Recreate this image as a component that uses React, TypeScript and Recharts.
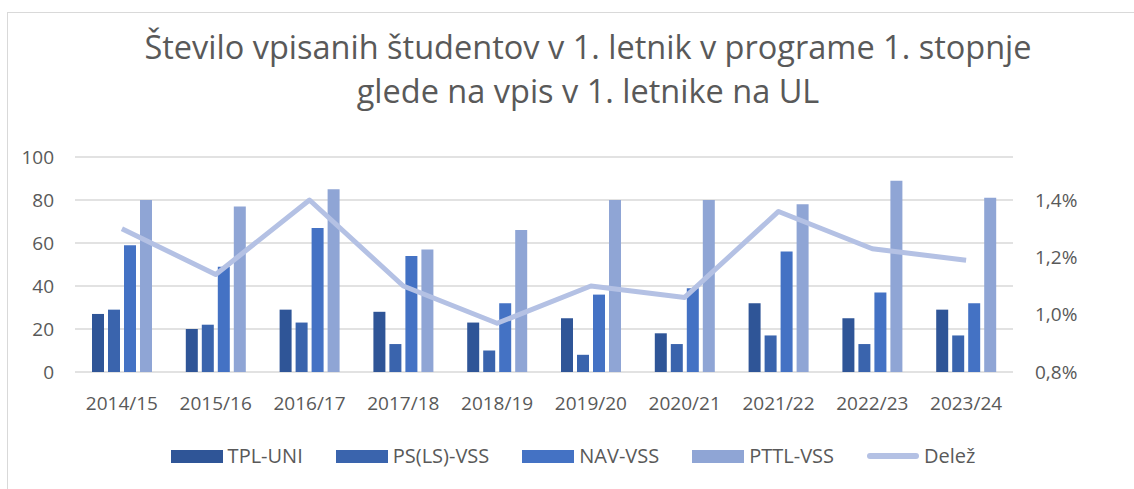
import { ComposedChart, Bar, Line, XAxis, YAxis, CartesianGrid, Legend } from 'recharts'

const categories = ['2014/15', '2015/16', '2016/17', '2017/18', '2018/19', '2019/20', '2020/21', '2021/22', '2022/23', '2023/24']
const tplUni = [27, 20, 29, 28, 23, 25, 18, 32, 25, 29]
const psLsVss = [29, 22, 23, 13, 10, 8, 13, 17, 13, 17]
const navVss = [59, 49, 67, 54, 32, 36, 39, 56, 37, 32]
const pttlVss = [80, 77, 85, 57, 66, 80, 80, 78, 89, 81]
const delez = [1.3, 1.14, 1.4, 1.1, 0.97, 1.1, 1.06, 1.36, 1.23, 1.19]

const leftTicks = [0, 20, 40, 60, 80, 100]
const rightTicks = [0.8, 1.0, 1.2, 1.4]

const data = categories.map((c, i) => ({
  year: c,
  tpl: tplUni[i],
  ps: psLsVss[i],
  nav: navVss[i],
  pttl: pttlVss[i],
  delez: delez[i],
}))

const textColor = '#595959'
const font = '"Open Sans", sans-serif'

const legendItems = [
  { label: 'TPL-UNI', color: '#2F5597', line: false },
  { label: 'PS(LS)-VSS', color: '#3A64AD', line: false },
  { label: 'NAV-VSS', color: '#4472C4', line: false },
  { label: 'PTTL-VSS', color: '#8FA5D5', line: false },
  { label: 'Delež', color: '#B4C1E4', line: true },
]

function ChartLegend() {
  return (
    <div style={{ display: 'flex', justifyContent: 'center', alignItems: 'center', gap: 33, fontFamily: font, fontSize: 20, lineHeight: '26px', color: textColor, paddingLeft: 12 }}>
      {legendItems.map((it) => (
        <div key={it.label} style={{ display: 'flex', alignItems: 'center' }}>
          <span
            style={{
              display: 'inline-block',
              width: 52,
              height: it.line ? 6 : 13,
              borderRadius: it.line ? 3 : 0,
              background: it.color,
              marginRight: 5,
            }}
          />
          <span>{it.label}</span>
        </div>
      ))}
    </div>
  )
}

export default function App() {
  return (
    <div style={{ position: 'absolute', left: 0, top: 0, width: 1134, height: 489, background: '#fff', overflow: 'hidden' }}>
      <div style={{ position: 'absolute', left: 7, top: 12, width: 1140, height: 490, border: '1px solid #d9d9d9' }} />
      <div
        style={{
          position: 'absolute',
          left: 0,
          top: 25,
          width: 1176,
          textAlign: 'center',
          fontFamily: font,
          fontSize: 32.5,
          lineHeight: '44px',
          color: textColor,
        }}
      >
        Število vpisanih študentov v 1. letnik v programe 1. stopnje
        <br />
        glede na vpis v 1. letnike na UL
      </div>
      <ComposedChart
        width={1134}
        height={489}
        data={data}
        margin={{ top: 157, right: 0, bottom: 67, left: 0 }}
        barSize={12}
        barGap={4}
        style={{ position: 'absolute', left: 0, top: 0 }}
      >
        <CartesianGrid yAxisId="left" vertical={false} stroke="#d9d9d9" strokeWidth={1.3} />
        <XAxis
          dataKey="year"
          axisLine={false}
          tickLine={false}
          height={50}
          tickMargin={19}
          interval={0}
          tick={{ fill: textColor, fontSize: 19, fontFamily: font }}
        />
        <YAxis
          yAxisId="left"
          width={75}
          domain={[0, 100]}
          ticks={leftTicks}
          axisLine={false}
          tickLine={false}
          tickMargin={15}
          tick={{ fill: textColor, fontSize: 19, fontFamily: font }}
        />
        <YAxis
          yAxisId="right"
          orientation="right"
          width={121}
          domain={[0.8, 1.55]}
          ticks={rightTicks}
          axisLine={false}
          tickLine={false}
          tickMargin={16}
          tickFormatter={(v: number) => v.toFixed(1).replace('.', ',') + '%'}
          tick={{ fill: textColor, fontSize: 19, fontFamily: font }}
        />
        <Legend
          layout="horizontal"
          verticalAlign="middle"
          wrapperStyle={{ position: 'absolute', top: 443, left: 0, width: 1134 }}
          content={() => <ChartLegend />}
        />
        <Bar yAxisId="left" dataKey="tpl" name="TPL-UNI" fill="#2F5597" isAnimationActive={false} />
        <Bar yAxisId="left" dataKey="ps" name="PS(LS)-VSS" fill="#3A64AD" isAnimationActive={false} />
        <Bar yAxisId="left" dataKey="nav" name="NAV-VSS" fill="#4472C4" isAnimationActive={false} />
        <Bar yAxisId="left" dataKey="pttl" name="PTTL-VSS" fill="#8FA5D5" isAnimationActive={false} />
        <Line
          yAxisId="right"
          dataKey="delez"
          name="Delež"
          stroke="#B4C1E4"
          strokeWidth={5}
          strokeLinejoin="round"
          dot={false}
          activeDot={false}
          isAnimationActive={false}
        />
      </ComposedChart>
    </div>
  )
}
